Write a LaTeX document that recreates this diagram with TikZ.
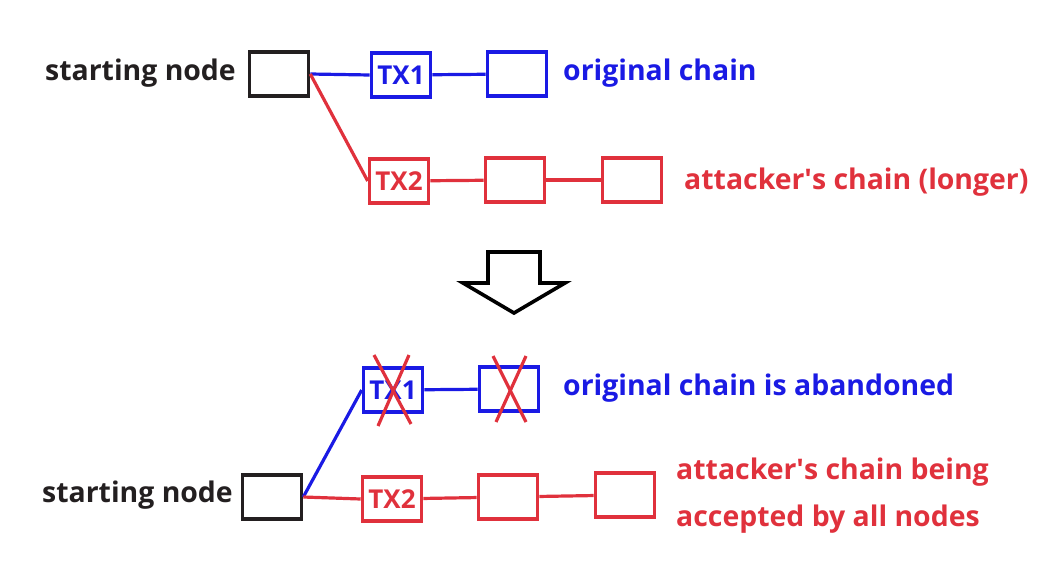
\documentclass[tikz,border=0pt]{standalone}
\usepackage{fontspec}
\setmainfont{Open Sans}
\usepackage{tikz}
\usetikzlibrary{positioning, calc}

\definecolor{chainblue}{RGB}{26,26,228}
\definecolor{chainred}{RGB}{224,49,60}
\definecolor{darktext}{RGB}{35,31,32}

\begin{document}
\begin{tikzpicture}[
    x=1pt, y=-1pt,
    block/.style={rectangle, draw, line width=3.6pt, minimum width=59pt, minimum height=44pt, inner sep=0pt,
        font=\fontsize{26}{30}\selectfont\bfseries},
    startblock/.style={block, draw=darktext},
    oldblock/.style={block, draw=chainblue, text=chainblue},
    newblock/.style={block, draw=chainred, text=chainred},
    label/.style={font=\fontsize{28.4}{32}\selectfont\bfseries, inner sep=0pt},
    oldlink/.style={chainblue, line width=3.2pt},
    newlink/.style={chainred, line width=3.2pt},
    cross/.style={chainred, line width=3.2pt}
]
\useasboundingbox (0,0) rectangle (1052,571);

% before the attack
\node[startblock] (start1) at (279,74) {};
\node[oldblock] (tx1) at (401,75) {TX1};
\node[oldblock] (b1) at (517,74) {};
\node[newblock] (tx2) at (399,181) {TX2};
\node[newblock] (r1) at (515,180) {};
\node[newblock] (r2) at (632,180) {};
\node[label, text=darktext, anchor=east] (start1lbl) at (236,73) {starting node};
\node[label, text=chainblue, anchor=west] (oldlbl) at (563,73) {original chain};
\node[label, text=chainred, anchor=west] (newlbl) at (684,182) {attacker\textquotesingle s chain (longer)};
\draw[oldlink] (start1.east) -- (tx1.west);
\draw[oldlink] (tx1) -- (b1);
\draw[newlink] (start1.east) -- (tx2.west);
\draw[newlink] (tx2) -- (r1);
\draw[newlink] (r1) -- (r2);

% hollow arrow
\draw[line width=3.6pt, fill=white, line join=miter]
    (488,252) -- (540,252) -- (540,283) -- (565,283) -- (514,313) -- (463,283) -- (488,283) -- cycle;

% after the attack
\node[startblock] (start2) at (272,497) {};
\node[oldblock] (tx1b) at (393,390) {TX1};
\node[oldblock] (b1b) at (509,389) {};
\node[newblock] (tx2b) at (392,499) {TX2};
\node[newblock] (r1b) at (508,497) {};
\node[newblock] (r2b) at (625,495) {};
\node[label, text=darktext, anchor=east] (start2lbl) at (233,495) {starting node};
\node[label, text=chainblue, anchor=west] (abandonlbl) at (563,388) {original chain is abandoned};
\node[label, text=chainred, anchor=west] (acceptlbl1) at (676,472) {attacker\textquotesingle s chain being};
\node[label, text=chainred, anchor=west] (acceptlbl2) at (676,519) {accepted by all nodes};
\draw[oldlink] (start2.east) -- (tx1b.west);
\draw[oldlink] (tx1b) -- (b1b);
\draw[newlink] (start2.east) -- (tx2b.west);
\draw[newlink] (tx2b) -- (r1b);
\draw[newlink] (r1b) -- (r2b);

% crossed out blocks
\draw[cross] ([shift={(-19,-35)}]tx1b.center) -- ([shift={(18,34)}]tx1b.center);
\draw[cross] ([shift={(16,-35)}]tx1b.center) -- ([shift={(-15,36)}]tx1b.center);
\draw[cross] ([shift={(-16,-33)}]b1b.center) -- ([shift={(17,33)}]b1b.center);
\draw[cross] ([shift={(17,-33)}]b1b.center) -- ([shift={(-13,33)}]b1b.center);
\end{tikzpicture}
\end{document}
